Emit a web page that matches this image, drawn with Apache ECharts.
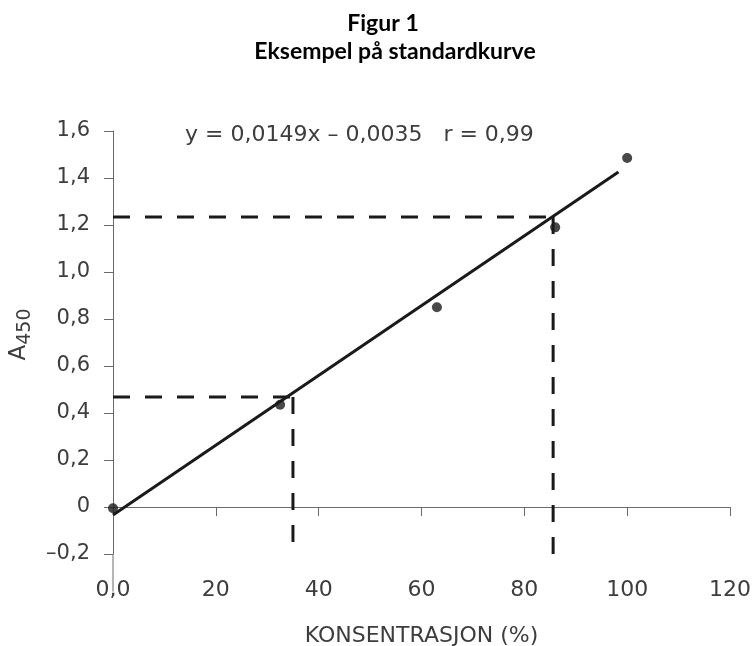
<!DOCTYPE html>
<html><head><meta charset="utf-8">
<script src="https://cdn.jsdelivr.net/npm/echarts@6/dist/echarts.min.js"></script>
<style>html,body{margin:0;padding:0;background:#fff}#c{width:754px;height:646px}</style>
</head><body><div id="c"></div>
<script>
const titleLines = ['Figur 1', 'Eksempel på standardkurve'];
const equationText = 'y = 0,0149x – 0,0035   r = 0,99';
const xName = 'KONSENTRASJON (%)';
const xTicks = [0, 20, 40, 60, 80, 100, 120];
const yTicks = [-0.2, 0, 0.2, 0.4, 0.6, 0.8, 1.0, 1.2, 1.4, 1.6];
const pointX = [0, 32.5, 63, 86, 100];
const pointY = [-0.005, 0.435, 0.85, 1.19, 1.485];
const fitX = [0, 98.3];
const fitY = [-0.034, 1.426];
const guideHigh = {x: 85.6, y: 1.234};
const guideLow = {x: 35, y: 0.468};
const axisStubY = [-0.2, -0.36];

const fmt = v => {
  if (Math.abs(v) < 1e-9) return '0';
  const s = Math.abs(v).toFixed(1).replace('.', ',');
  return v < 0 ? '–' + s : s;
};
const fontFam = '"DejaVu Sans", sans-serif';
const txtColor = '#3d3d3d';
const axisColor = '#6a6a6a';
const dashStyle = {color: '#1a1a1a', width: 3, type: [17, 15]};
const chart = echarts.init(document.getElementById('c'));
const guideSeries = (data) => ({
  type: 'line', data, symbol: 'none', lineStyle: dashStyle, silent: true, z: 2
});
chart.setOption({
  animation: false,
  graphic: [
    {type: 'text', x: 383, y: 24, style: {text: titleLines[0], font: 'bold 23px Lato, sans-serif', fill: '#000', align: 'center', verticalAlign: 'middle'}},
    {type: 'text', x: 395, y: 52, style: {text: titleLines[1], font: 'bold 23px Lato, sans-serif', fill: '#000', align: 'center', verticalAlign: 'middle'}},
    {type: 'text', x: 185, y: 135, style: {text: equationText, font: '22px ' + fontFam, fill: txtColor, verticalAlign: 'middle'}}
  ],
  grid: {left: 113, right: 24, top: 131, bottom: 92, outerBoundsMode: 'none', containLabel: false},
  xAxis: {
    type: 'value', min: 0, max: 120, interval: 20,
    name: xName, nameLocation: 'middle', nameGap: 71,
    nameTextStyle: {fontFamily: fontFam, fontSize: 22, color: txtColor},
    axisLine: {lineStyle: {color: axisColor, width: 1}},
    axisTick: {show: true, inside: false, length: 9, lineStyle: {color: axisColor}},
    splitLine: {show: false},
    axisLabel: {
      fontFamily: fontFam, fontSize: 22, color: txtColor, margin: 25,
      formatter: v => v === 0 ? '0,0' : String(v)
    }
  },
  yAxis: {
    type: 'value', min: -0.2, max: 1.6, interval: 0.2,
    name: '{a|A}{s|450}', nameLocation: 'middle', nameGap: 78, nameRotate: 90,
    nameTextStyle: {
      padding: [0, 0, 0, 16],
      rich: {
        a: {fontFamily: fontFam, fontSize: 23, color: txtColor},
        s: {fontFamily: fontFam, fontSize: 19, color: txtColor, padding: [12, 0, 0, 0]}
      }
    },
    axisLine: {show: true, lineStyle: {color: axisColor, width: 1}},
    axisTick: {show: true, inside: false, length: 9, lineStyle: {color: axisColor}},
    splitLine: {show: false},
    axisLabel: {fontFamily: fontFam, fontSize: 21, color: txtColor, margin: 23, formatter: fmt}
  },
  series: [
    {
      type: 'line', data: axisStubY.map(y => [0, y]), symbol: 'none', clip: false,
      lineStyle: {color: axisColor, width: 1}, silent: true, z: 1
    },
    guideSeries([[0, guideHigh.y], [guideHigh.x, guideHigh.y]]),
    guideSeries([[guideHigh.x, guideHigh.y], [guideHigh.x, -0.2]]),
    guideSeries([[0, guideLow.y], [guideLow.x, guideLow.y]]),
    guideSeries([[guideLow.x, guideLow.y], [guideLow.x, -0.2]]),
    {
      type: 'line', data: fitX.map((x, i) => [x, fitY[i]]), symbol: 'none',
      lineStyle: {color: '#1a1a1a', width: 3}, z: 3
    },
    {
      type: 'scatter', data: pointX.map((x, i) => [x, pointY[i]]),
      symbolSize: 10, itemStyle: {color: '#1a1a1a'}, z: 4
    }
  ]
});
</script></body></html>
